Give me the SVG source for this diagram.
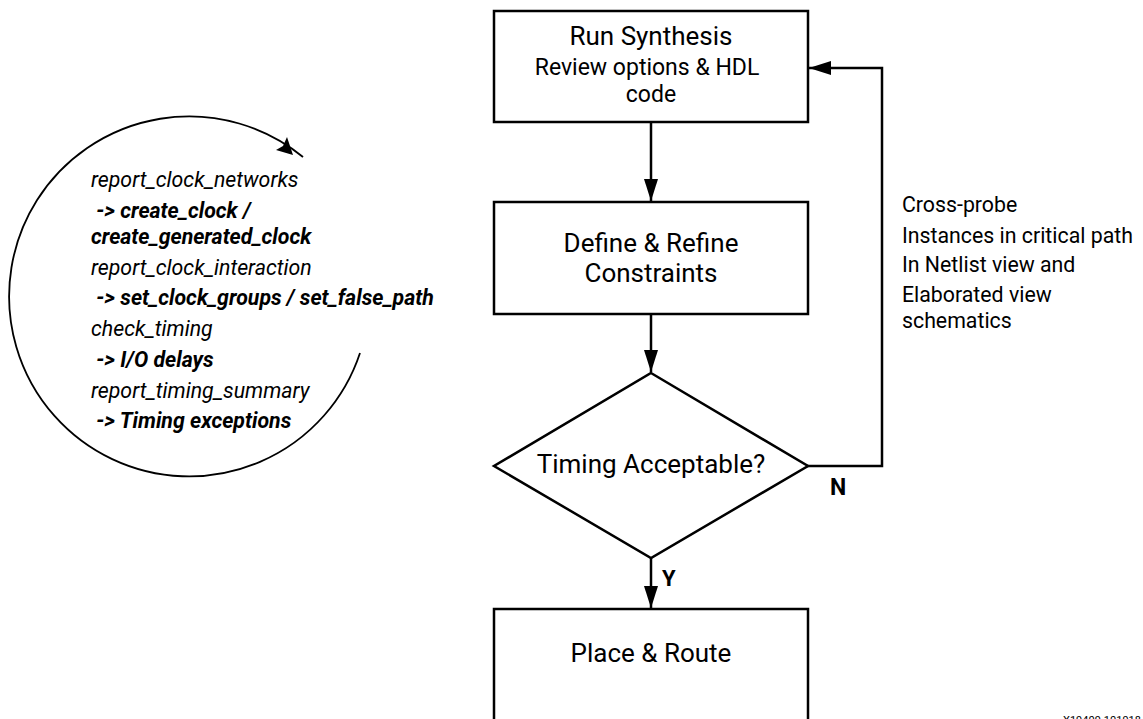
<svg xmlns="http://www.w3.org/2000/svg" width="1143" height="719" viewBox="0 0 1143 719">
<style>
.box{fill:#fff;stroke:#000;stroke-width:2.5}
.ln{fill:none;stroke:#000;stroke-width:2.5}
.t{font-family:Roboto,"Liberation Sans",sans-serif;fill:#000}
.c{text-anchor:middle}
.it{font-style:italic;font-size:21.3px}
.bi{font-style:italic;font-weight:bold;font-size:21.3px}
.nt{font-size:21.3px}
</style>
<defs>
<marker id="ah" markerWidth="22" markerHeight="14" refX="22" refY="7" orient="auto" markerUnits="userSpaceOnUse">
<path d="M0,0 L22,7 L0,14 Z" fill="#000"/>
</marker>
</defs>
<rect width="1143" height="719" fill="#fff"/>
<g id="connectors">
<line class="ln" x1="651" y1="122" x2="651" y2="201" marker-end="url(#ah)"/>
<line class="ln" x1="651" y1="314" x2="651" y2="372" marker-end="url(#ah)"/>
<line class="ln" x1="651" y1="558" x2="651" y2="608" marker-end="url(#ah)"/>
<polyline class="ln" points="807,466 882,466 882,68 809,68" marker-end="url(#ah)"/>
<text class="t" x="830" y="495" font-size="23" font-weight="bold">N</text>
<text class="t" x="662" y="586" font-size="22" font-weight="bold">Y</text>
</g>
<g id="node-synthesis">
<rect class="box" x="494" y="11" width="314" height="111"/>
<text class="t c" x="651" y="45" font-size="26">Run Synthesis</text>
<text class="t c" x="647" y="75" font-size="23">Review options &amp; HDL</text>
<text class="t c" x="651" y="102" font-size="23">code</text>
</g>
<g id="node-constraints">
<rect class="box" x="494" y="202" width="314" height="112"/>
<text class="t c" x="651" y="252" font-size="26">Define &amp; Refine</text>
<text class="t c" x="651" y="282" font-size="26">Constraints</text>
</g>
<g id="node-decision">
<polygon class="box" points="651,373 808,466 651,558 494,466"/>
<text class="t c" x="651" y="473" font-size="26">Timing Acceptable?</text>
</g>
<g id="node-place">
<rect class="box" x="494" y="609" width="314" height="130"/>
<text class="t c" x="651" y="662" font-size="26">Place &amp; Route</text>
</g>
<g id="note-crossprobe">
<text class="t nt" x="902" y="212">Cross-probe</text>
<text class="t nt" x="902" y="243">Instances in critical path</text>
<text class="t nt" x="902" y="272">In Netlist view and</text>
<text class="t nt" x="902" y="302">Elaborated view</text>
<text class="t nt" x="902" y="328">schematics</text>
</g>
<g id="loop">
<path d="M360,353 A180,180 0 1 1 303,157" fill="none" stroke="#000" stroke-width="1.8"/>
<polygon points="287,137 283,146 276,150 293,155" fill="#000"/>
<text class="t it" x="91" y="187">report_clock_networks</text>
<text class="t bi" x="91" y="218" xml:space="preserve"> -&gt; create_clock /</text>
<text class="t bi" x="91" y="244">create_generated_clock</text>
<text class="t it" x="91" y="275">report_clock_interaction</text>
<text class="t bi" x="91" y="305" xml:space="preserve"> -&gt; set_clock_groups / set_false_path</text>
<text class="t it" x="91" y="336">check_timing</text>
<text class="t bi" x="91" y="367" xml:space="preserve"> -&gt; I/O delays</text>
<text class="t it" x="91" y="398">report_timing_summary</text>
<text class="t bi" x="91" y="428" xml:space="preserve"> -&gt; Timing exceptions</text>
</g>
<text class="t" x="1063" y="724" font-size="11">X19409-101918</text>
</svg>
